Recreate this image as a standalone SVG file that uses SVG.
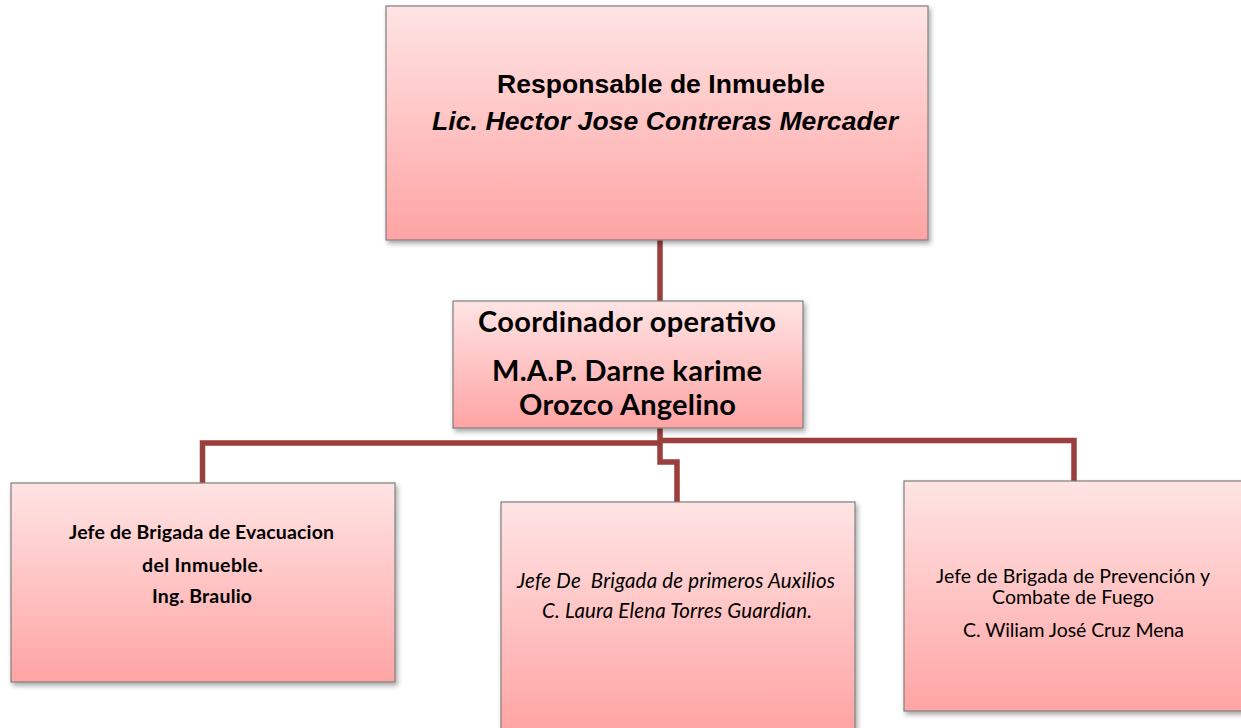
<svg xmlns="http://www.w3.org/2000/svg" width="1241" height="728" viewBox="0 0 1241 728">
<style>
.box{fill:url(#g);stroke:#7f7f7f;stroke-width:1.2;filter:url(#sh)}
.con{fill:none;stroke:#9b3e3e;stroke-width:5.5;stroke-linejoin:miter}
.ar{font-family:"Liberation Sans",Arial,sans-serif;fill:#000;text-anchor:middle}
.ca{font-family:Lato,"Open Sans",sans-serif;fill:#000;text-anchor:middle}
</style>
<defs>
<linearGradient id="g" x1="0" y1="0" x2="0" y2="1">
<stop offset="0" stop-color="#ffe4e4"/>
<stop offset="1" stop-color="#ffa4a4"/>
</linearGradient>
<filter id="sh" x="-10%" y="-10%" width="120%" height="125%">
<feDropShadow dx="2" dy="3" stdDeviation="2.5" flood-color="#000" flood-opacity="0.35"/>
</filter>
</defs>
<g id="connectors">
<path class="con" d="M660 240 V301"/>
<path class="con" d="M660 428 V462 H677 V502"/>
<path class="con" d="M202.5 483 V443 H660"/>
<path class="con" d="M660 440.5 H1074 V481"/>
</g>
<g id="n1">
<rect class="box" x="386" y="6" width="542" height="234"/>
<text class="ar" x="661" y="93" font-size="26.5" font-weight="bold" textLength="328">Responsable de Inmueble</text>
<text class="ar" x="665" y="130" font-size="26.5" font-weight="bold" font-style="italic" textLength="466">Lic. Hector Jose Contreras Mercader</text>
</g>
<g id="n2">
<rect class="box" x="453" y="301" width="350" height="127"/>
<text class="ca" x="627" y="332" font-size="29" font-weight="bold" textLength="298">Coordinador operativo</text>
<text class="ca" x="627" y="381" font-size="29" font-weight="bold" textLength="270">M.A.P. Darne karime</text>
<text class="ca" x="627.5" y="415" font-size="29" font-weight="bold" textLength="217">Orozco Angelino</text>
</g>
<g id="n3">
<rect class="box" x="11" y="483" width="384" height="199"/>
<text class="ca" x="201.5" y="539" font-size="19.5" font-weight="bold" textLength="265">Jefe de Brigada de Evacuacion</text>
<text class="ca" x="202.5" y="572" font-size="19.5" font-weight="bold" textLength="121">del Inmueble.</text>
<text class="ca" x="202" y="603" font-size="19.5" font-weight="bold" textLength="100">Ing. Braulio</text>
</g>
<g id="n4">
<rect class="box" x="501" y="502" width="354" height="228"/>
<text class="ca" x="676" y="588" font-size="20.5" font-style="italic" xml:space="preserve" textLength="318">Jefe De  Brigada de primeros Auxilios</text>
<text class="ca" x="677" y="618" font-size="20.5" font-style="italic" textLength="270">C. Laura Elena Torres Guardian.</text>
</g>
<g id="n5">
<rect class="box" x="904" y="481" width="345" height="230"/>
<text class="ca" x="1073" y="583" font-size="19.5" textLength="274">Jefe de Brigada de Prevención y</text>
<text class="ca" x="1073" y="604" font-size="19.5" textLength="162">Combate de Fuego</text>
<text class="ca" x="1073.5" y="637" font-size="19.5" textLength="221">C. Wiliam José Cruz Mena</text>
</g>
</svg>
